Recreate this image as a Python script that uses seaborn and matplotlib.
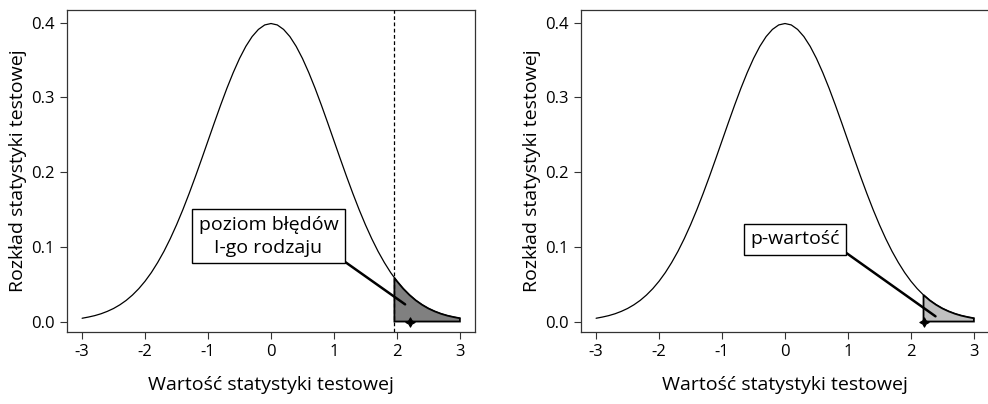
import numpy as np
import pandas as pd
import seaborn as sns
import matplotlib.pyplot as plt

# standard normal density for x = 0.0 ... 3.0 (step 0.1);
# the curve is symmetric, so the left half is the mirror image
half_x = [0.0, 0.1, 0.2, 0.3, 0.4, 0.5, 0.6, 0.7, 0.8, 0.9, 1.0, 1.1, 1.2, 1.3, 1.4, 1.5,
          1.6, 1.7, 1.8, 1.9, 2.0, 2.1, 2.2, 2.3, 2.4, 2.5, 2.6, 2.7, 2.8, 2.9, 3.0]
half_density = [0.3989, 0.3970, 0.3910, 0.3814, 0.3683, 0.3521, 0.3332, 0.3123, 0.2897,
                0.2661, 0.2420, 0.2179, 0.1942, 0.1714, 0.1497, 0.1295, 0.1109, 0.0940,
                0.0790, 0.0656, 0.0540, 0.0440, 0.0355, 0.0283, 0.0224, 0.0175, 0.0136,
                0.0104, 0.0079, 0.0060, 0.0044]

critical_value = 1.96      # start of the rejection region
critical_density = 0.0584
observed = 2.2             # observed test statistic
observed_density = 0.0355

x_ticks = [-3, -2, -1, 0, 1, 2, 3]
y_ticks = [0.0, 0.1, 0.2, 0.3, 0.4]
x_label = 'Wartość statystyki testowej'
y_label = 'Rozkład statystyki testowej'
labels = ['poziom błędów\nI-go rodzaju', 'p-wartość']

sns.set_style('ticks')
plt.rcParams['font.family'] = ['Open Sans', 'DejaVu Sans']
plt.rcParams['axes.unicode_minus'] = False
plt.rcParams['text.color'] = 'black'
plt.rcParams['axes.labelcolor'] = 'black'

df = pd.DataFrame({
    'x': [-v for v in half_x[:0:-1]] + half_x,
    'y': half_density[:0:-1] + half_density,
})


def tail(start, start_density):
    # the shaded region: from the cut-off point to x = 3 under the curve
    part = df[df['x'] > start + 1e-9]
    tx = [start] + part['x'].tolist()
    ty = [start_density] + part['y'].tolist()
    return [tx[0]] + tx + [tx[-1]], [0.0] + ty + [0.0]


fig = plt.figure(figsize=(9.88, 4.04), dpi=100)
ax1 = fig.add_axes([67 / 988, 72 / 404, 408 / 988, 322 / 404])
ax2 = fig.add_axes([581 / 988, 72 / 404, 408 / 988, 322 / 404])


def draw_panel(ax, start, start_density, fill, label, text_xy, line_end):
    sns.lineplot(data=df, x='x', y='y', ax=ax, color='black', lw=0.9, sort=False)
    px, py = tail(start, start_density)
    ax.fill(px, py, facecolor=fill, edgecolor='black', lw=1.3, zorder=3)
    sns.scatterplot(x=[observed], y=[0.0], ax=ax, marker=(4, 1, 0), s=45,
                    color='black', edgecolor='black', linewidth=0.8, zorder=5)
    ax.annotate(label, xy=line_end, xytext=text_xy, ha='center', va='center',
                fontsize=14, linespacing=1.4, zorder=6, color='black',
                bbox=dict(boxstyle='square,pad=0.32', fc='white', ec='black', lw=1),
                arrowprops=dict(arrowstyle='-', color='black', lw=1.8,
                                relpos=(1, 0), shrinkA=0, shrinkB=0))
    ax.set_xlim(-3.24, 3.24)
    ax.set_ylim(-0.014, 0.417)
    ax.set_xticks(x_ticks)
    ax.set_xticklabels([str(t) for t in x_ticks])
    ax.set_yticks(y_ticks)
    ax.set_yticklabels([f'{t:.1f}' for t in y_ticks])
    ax.tick_params(length=5, width=0.8, labelsize=12, color='#333333',
                   labelcolor='black', pad=4)
    for s in ax.spines.values():
        s.set_visible(True)
        s.set_linewidth(0.9)
        s.set_color('#333333')
    ax.set_xlabel(x_label, fontsize=14, labelpad=11)
    ax.set_ylabel(y_label, fontsize=14, labelpad=3)


draw_panel(ax1, critical_value, critical_density, '#808080', labels[0],
           (-0.04, 0.114), (2.13, 0.023))
ax1.axvline(critical_value, color='black', ls=(0, (3, 2)), lw=0.9, zorder=4)
draw_panel(ax2, observed, observed_density, '#c0c0c0', labels[1],
           (0.16, 0.11), (2.39, 0.007))

fig.savefig('out.png', dpi=100)
